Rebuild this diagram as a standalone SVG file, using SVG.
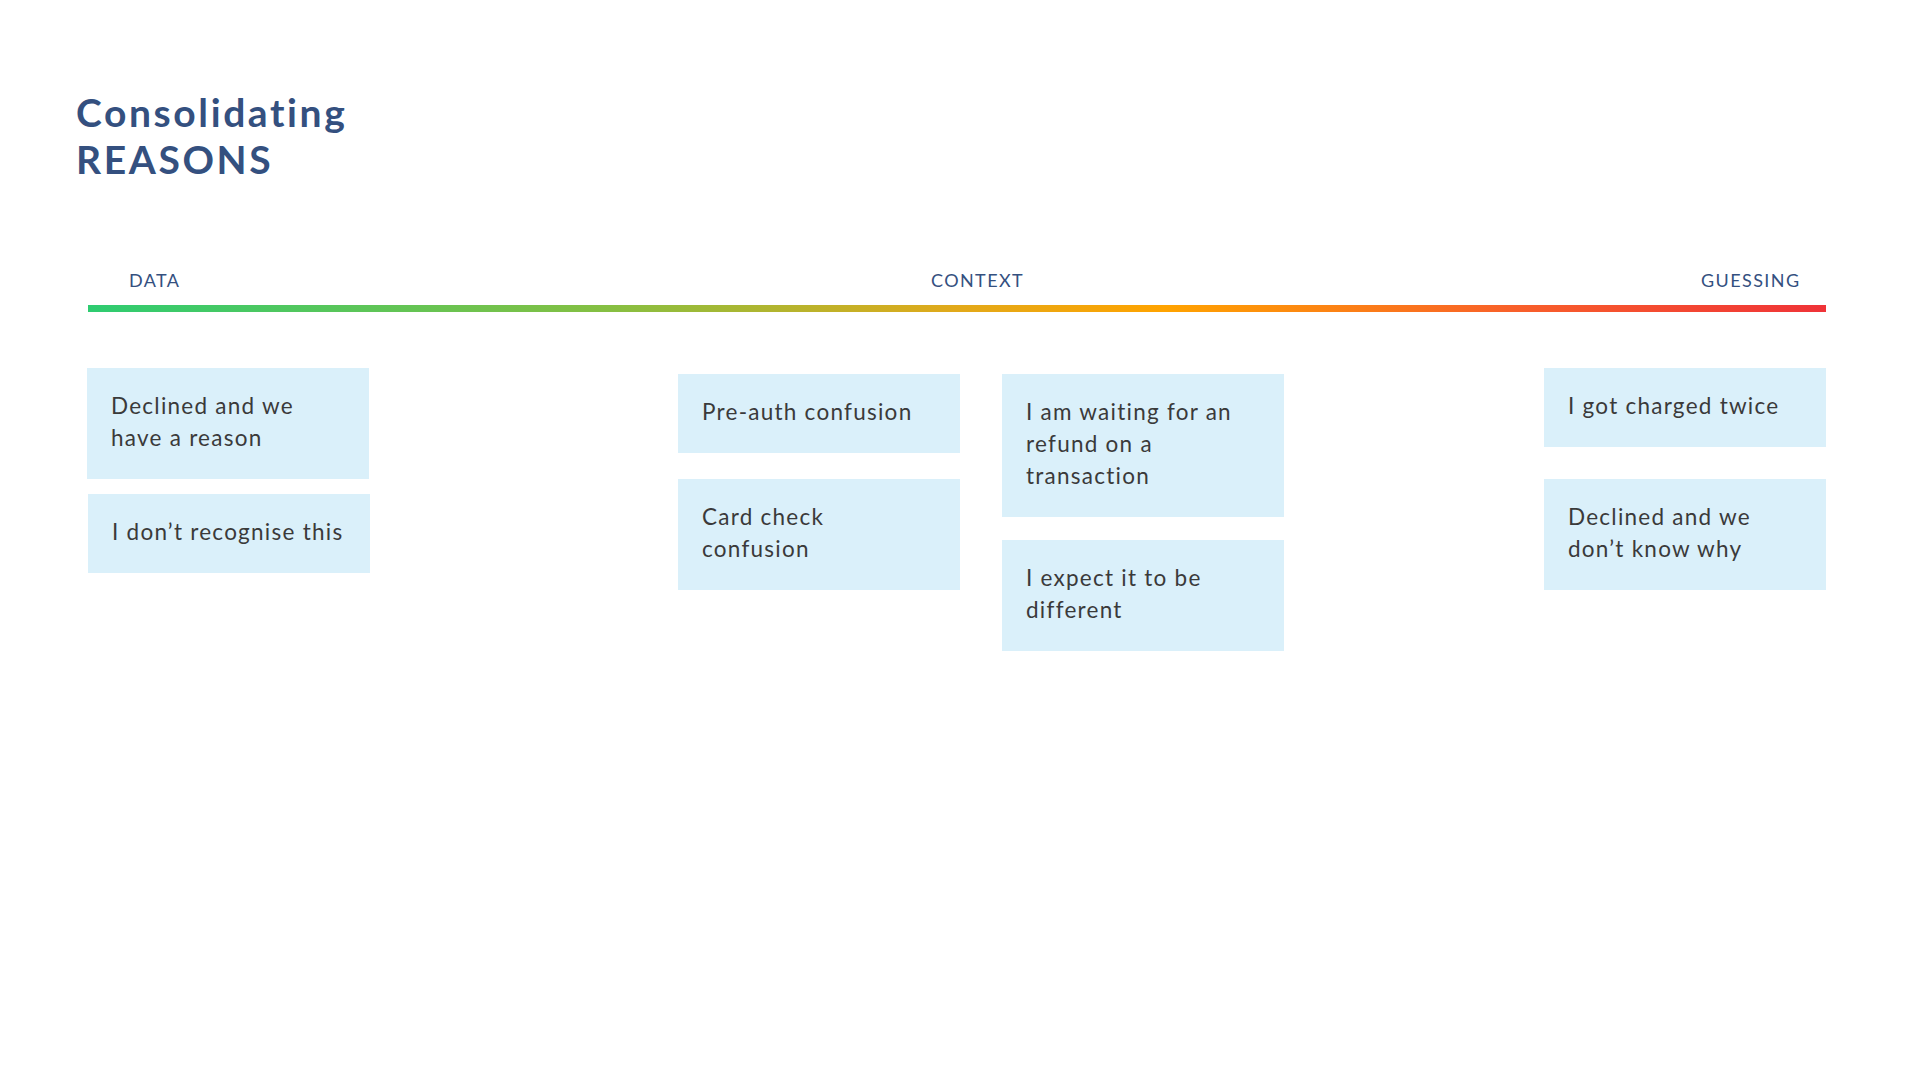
<svg xmlns="http://www.w3.org/2000/svg" width="1920" height="1080" viewBox="0 0 1920 1080">
<defs>
<linearGradient id="bar" x1="0" y1="0" x2="1" y2="0">
<stop offset="0" stop-color="#2ECC71"/>
<stop offset="0.3" stop-color="#86BF42"/>
<stop offset="0.5" stop-color="#E2A91A"/>
<stop offset="0.62" stop-color="#FFA300"/>
<stop offset="0.82" stop-color="#F8602A"/>
<stop offset="1" stop-color="#EF3338"/>
</linearGradient>
<style>
.title{font-family:"Lato","Open Sans",sans-serif;font-weight:700;font-size:39px;fill:#34507F;letter-spacing:2.6px}
.lbl{font-family:"Lato","Open Sans",sans-serif;font-size:18px;fill:#34507F;letter-spacing:1.4px}
.box{fill:#DAF0FA}
.txt{font-family:"Lato","Open Sans",sans-serif;font-size:22.5px;fill:#3A3A3A;letter-spacing:1.25px}
</style>
</defs>
<rect width="1920" height="1080" fill="#FFFFFF"/>
<g id="title">
<text class="title" x="76" y="127">Consolidating</text>
<text class="title" x="76" y="174">REASONS</text>
</g>
<g id="scale">
<rect x="88" y="305" width="1738" height="7" fill="url(#bar)"/>
<text class="lbl" x="129" y="287">DATA</text>
<text class="lbl" x="931" y="287">CONTEXT</text>
<text class="lbl" x="1701" y="287">GUESSING</text>
</g>
<g id="n1"><rect class="box" x="87" y="368" width="282" height="111"/><text class="txt" x="111" y="414">Declined and we</text><text class="txt" x="111" y="446">have a reason</text></g>
<g id="n2"><rect class="box" x="88" y="494" width="282" height="79"/><text class="txt" x="112" y="540">I don’t recognise this</text></g>
<g id="n3"><rect class="box" x="678" y="374" width="282" height="79"/><text class="txt" x="702" y="420">Pre-auth confusion</text></g>
<g id="n4"><rect class="box" x="678" y="479" width="282" height="111"/><text class="txt" x="702" y="525">Card check</text><text class="txt" x="702" y="557">confusion</text></g>
<g id="n5"><rect class="box" x="1002" y="374" width="282" height="143"/><text class="txt" x="1026" y="420">I am waiting for an</text><text class="txt" x="1026" y="452">refund on a</text><text class="txt" x="1026" y="484">transaction</text></g>
<g id="n6"><rect class="box" x="1002" y="540" width="282" height="111"/><text class="txt" x="1026" y="586">I expect it to be</text><text class="txt" x="1026" y="618">different</text></g>
<g id="n7"><rect class="box" x="1544" y="368" width="282" height="79"/><text class="txt" x="1568" y="414">I got charged twice</text></g>
<g id="n8"><rect class="box" x="1544" y="479" width="282" height="111"/><text class="txt" x="1568" y="525">Declined and we</text><text class="txt" x="1568" y="557">don’t know why</text></g>
<g id="connectors"/>
</svg>
